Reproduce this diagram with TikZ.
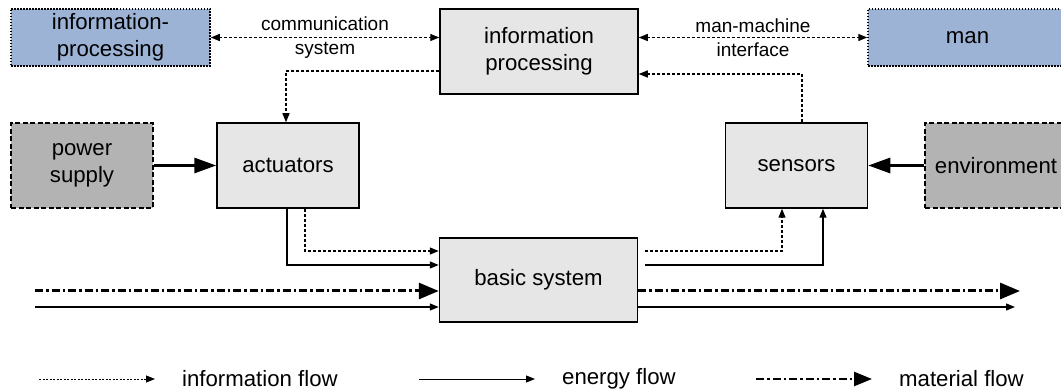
\documentclass[tikz,border=0pt]{standalone}
\usepackage{fontspec}
\setmainfont{Liberation Sans}
\usetikzlibrary{arrows.meta,positioning,calc}

\definecolor{boxgray}{HTML}{E6E6E6}
\definecolor{extgray}{HTML}{B3B3B3}
\definecolor{extblue}{HTML}{9DB3D6}

\begin{document}
\begin{tikzpicture}[x=1pt, y=-1pt,
    blockbox/.style={draw=black, fill=boxgray, line width=1.5pt, minimum width=142pt, minimum height=85pt, inner sep=2pt, font=\fontsize{22.2}{27.5}\selectfont, align=center},
    widebox/.style={blockbox, minimum width=198pt},
    sourcebox/.style={blockbox, fill=extgray, dash pattern=on 5pt off 2.5pt},
    humanbox/.style={blockbox, fill=extblue, minimum width=199pt, minimum height=57pt, dash pattern=on 1.5pt off 1.5pt},
    lbl/.style={font=\fontsize{19}{24.5}\selectfont, align=center},
    keytext/.style={anchor=west, inner sep=0pt, font=\fontsize{22.2}{27.5}\selectfont},
    infoflow/.style={-{Triangle[length=9pt,width=7pt]}, line width=1.3pt, dash pattern=on 3pt off 2pt},
    infolink/.style={infoflow, {Triangle[length=9pt,width=7pt]}-{Triangle[length=9pt,width=7pt]}},
    energyflow/.style={-{Triangle[length=9pt,width=7pt]}, line width=1.3pt},
    supplyflow/.style={-{Triangle[length=22pt,width=15pt]}, line width=3pt},
    materialflow/.style={-{Triangle[length=20pt,width=16pt]}, line width=3pt, dash pattern=on 8pt off 3pt on 2.5pt off 3pt}
]
\useasboundingbox (0,0) rectangle (1061,390);

% Information level
\node[humanbox] (infoext) at (110.5,37.5) {information-\\processing};
\node[widebox] (infoproc) at (539,51.5) {information\\processing};
\node[humanbox] (man) at (967.5,37.5) {man};

% Actuators, sensors and their sources
\node[sourcebox] (power) at (82,165.5) {power\\supply};
\node[blockbox] (act) at (288,165.5) {actuators};
\node[blockbox] (sens) at (796.5,165.5) {sensors};
\node[sourcebox] (env) at (996,165.5) {environment};

% Basic system
\node[widebox, minimum height=84pt] (basic) at (538.5,280) {basic system};

% Communication links
\draw[infolink] (infoext.east) -- node[lbl] {communication\\system} (infoproc.west |- infoext.east);
\draw[infolink] (infoproc.east |- man.west) -- node[lbl] {man-machine\\interface} (man.west);
\draw[infoflow] ([yshift=-19.5pt]infoproc.west) -| ([xshift=-2pt]act.north);
\draw[infoflow] ([xshift=5.5pt]sens.north) |- ([yshift=-22.5pt]infoproc.east);

% Supply into actuators and sensors
\draw[supplyflow] (power) -- (act);
\draw[supplyflow] (env) -- (sens);

% Actuators -> basic system -> sensors
\draw[energyflow] ([xshift=-1pt]act.south) |- ([yshift=15pt]basic.west);
\draw[infoflow] ([xshift=17pt]act.south) |- ([yshift=29pt]basic.west);
\draw[infoflow, shorten <=7pt] ([yshift=29pt]basic.east) -| ([xshift=-14.5pt]sens.south);
\draw[energyflow, shorten <=7pt] ([yshift=15pt]basic.east) -| ([xshift=26.5pt]sens.south);

% Flows through the basic system
\coordinate (matin) at (35,291);
\coordinate (enin) at (35,307);
\coordinate (matout) at (1020,291);
\coordinate (enout) at (1015,307);
\draw[materialflow] (matin) -- (basic.west |- matin);
\draw[energyflow] (enin) -- (basic.west |- enin);
\draw[materialflow] (basic.east |- matout) -- (matout);
\draw[energyflow] (basic.east |- enout) -- (enout);

% Legend
\coordinate (infokey) at (39,379);
\coordinate (infokeyend) at (155,379);
\coordinate (enkey) at (419,379);
\coordinate (enkeyend) at (535,379);
\coordinate (matkey) at (756,379);
\coordinate (matkeyend) at (872,379);
\draw[infoflow, line width=1pt, dash pattern=on 2pt off 1.5pt] (infokey) -- (infokeyend);
\draw[energyflow, line width=1pt] (enkey) -- (enkeyend);
\draw[materialflow, line width=2.5pt, -{Triangle[length=18pt,width=14pt]}] (matkey) -- (matkeyend);
\node[keytext] (infolbl) at (182,379) {information flow};
\node[keytext] (enlbl) at (562,379) {energy flow};
\node[keytext] (matlbl) at (899,379) {material flow};

\end{tikzpicture}
\end{document}
